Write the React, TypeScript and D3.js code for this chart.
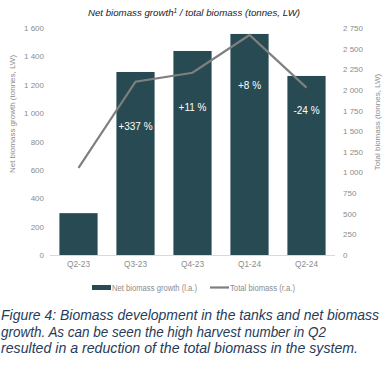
import React from "react";
import * as d3 from "d3";

const categories = ["Q2-23", "Q3-23", "Q4-23", "Q1-24", "Q2-24"];
const netGrowth = [295, 1290, 1438, 1558, 1262];
const totalBiomass = [1055, 2100, 2208, 2665, 2027];
const changeLabels = ["", "+337 %", "+11 %", "+8 %", "-24 %"];
const leftTicks = [0, 200, 400, 600, 800, 1000, 1200, 1400, 1600];
const rightTicks = [0, 250, 500, 750, 1000, 1250, 1500, 1750, 2000, 2250, 2500, 2750];
const captionLines = [
  "Figure 4: Biomass development in the tanks and net biomass",
  "growth. As can be seen the high harvest number in Q2",
  "resulted in a reduction of the total biomass in the system.",
];

const fmt = (v: number) => {
  const s = String(v);
  return s.length > 3 ? s.slice(0, s.length - 3) + " " + s.slice(-3) : s;
};

export default function App() {
  const W = 390, H = 380;
  const top = 28, bottom = 255, left = 50, right = 335;
  const x = d3.scaleBand<string>().domain(categories).range([left, right]).paddingInner(0.33).paddingOuter(0.165);
  const yL = d3.scaleLinear().domain([0, 1600]).range([bottom, top]);
  const yR = d3.scaleLinear().domain([0, 2750]).range([bottom, top]);
  const line = d3.line<number>()
    .x((_, i) => (x(categories[i]) as number) + x.bandwidth() / 2)
    .y((d) => yR(d));
  const font = "'Liberation Sans', Arial, sans-serif";
  const axisColor = "#8c8c8c";
  const barColor = "#284a52";
  const capWidths = [378, 325, 357];

  return (
    <svg width={W} height={H} style={{ position: "absolute", left: 0, top: 0 }} fontFamily={font}>
      <rect width={W} height={H} fill="#fff" />
      <text x={194} y={16} textAnchor="middle" fontSize={9.7} fontStyle="italic" fill="#222">
        Net biomass growth<tspan fontSize={6.5} dy={-3.5}>1</tspan><tspan dy={3.5}> / total biomass (tonnes, LW)</tspan>
      </text>
      {leftTicks.map((t) => (
        <text key={"l" + t} x={44} y={yL(t) + 3} textAnchor="end" fontSize={8} fill={axisColor}>{fmt(t)}</text>
      ))}
      {rightTicks.map((t) => (
        <text key={"r" + t} x={343} y={yR(t) + 3} textAnchor="start" fontSize={8} fill={axisColor}>{fmt(t)}</text>
      ))}
      <text transform={`translate(15,114) rotate(-90)`} textAnchor="middle" fontSize={8} fill={axisColor}>
        Net biomass growth (tonnes, LW)
      </text>
      <text transform={`translate(380,122) rotate(-90)`} textAnchor="middle" fontSize={8} fill={axisColor}>
        Total biomass (tonnes, LW)
      </text>
      {categories.map((c, i) => (
        <rect key={c} x={x(c)} y={yL(netGrowth[i])} width={x.bandwidth()} height={bottom - yL(netGrowth[i])} fill={barColor} />
      ))}
      <line x1={left} x2={right} y1={bottom + 0.5} y2={bottom + 0.5} stroke="#d9d9d9" strokeWidth={1} />
      <path d={line(totalBiomass) || ""} fill="none" stroke="#7f7f7f" strokeWidth={2.2} />
      {categories.map((c, i) =>
        changeLabels[i] ? (
          <text key={"c" + c} x={(x(c) as number) + x.bandwidth() / 2} y={[0, 129.5, 111, 89, 114][i]} textAnchor="middle" fontSize={10} fill="#fff">
            {changeLabels[i]}
          </text>
        ) : null
      )}
      {categories.map((c) => (
        <text key={"x" + c} x={(x(c) as number) + x.bandwidth() / 2} y={267} textAnchor="middle" fontSize={8.3} fill={axisColor}>{c}</text>
      ))}
      <rect x={92} y={285} width={19} height={5} fill={barColor} />
      <text x={112} y={290.5} fontSize={8.3} fill={axisColor} textLength={85} lengthAdjust="spacingAndGlyphs">Net biomass growth (l.a.)</text>
      <line x1={210} x2={229} y1={287.5} y2={287.5} stroke="#7f7f7f" strokeWidth={2.2} />
      <text x={230} y={290.5} fontSize={8.3} fill={axisColor} textLength={65} lengthAdjust="spacingAndGlyphs">Total biomass (r.a.)</text>
      {captionLines.map((l, i) => (
        <text key={"cap" + i} x={1} y={320 + i * 16.5} fontSize={14} fontStyle="italic" fill="#263c5a" fontFamily={font} textLength={capWidths[i]} lengthAdjust="spacingAndGlyphs">{l}</text>
      ))}
    </svg>
  );
}
